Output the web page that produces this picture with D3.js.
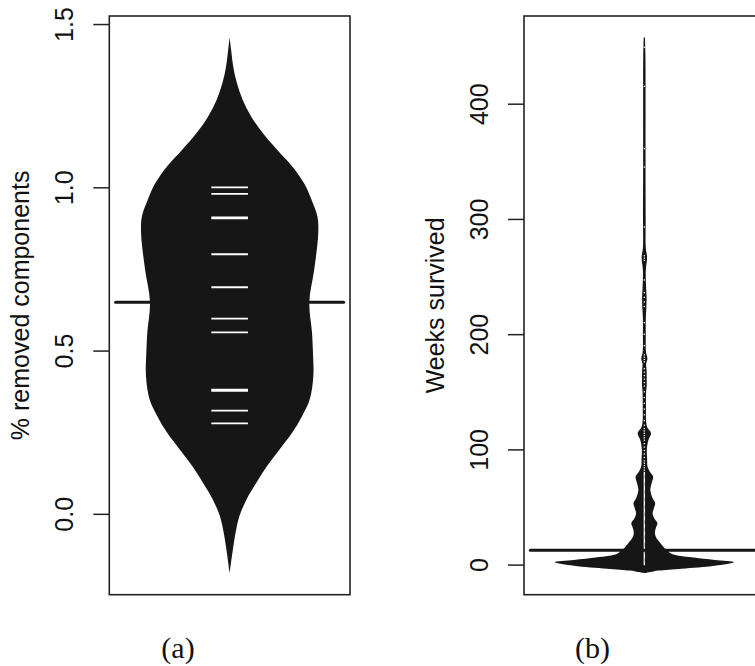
<!DOCTYPE html>
<html><head><meta charset="utf-8">
<script src="https://cdn.jsdelivr.net/npm/d3@7"></script>
<style>body{margin:0;background:#fff;} svg{display:block;}</style>
</head><body>
<script>
// ---------- Panel (a) data ----------
const aCaption = "(a)";
const aTitle = "% removed components";
const aTicks = [0, 0.5, 1.0, 1.5];
const aTickLabels = ["0.0", "0.5", "1.0", "1.5"];
// density outline: value and relative density (0..1)
const aDensValues = [-0.182, -0.108, -0.057, -0.006, 0.045, 0.096, 0.147, 0.198, 0.249, 0.30, 0.351, 0.422, 0.50, 0.556, 0.648, 0.748, 0.86, 0.911, 0.962, 1.013, 1.064, 1.115, 1.166, 1.217, 1.268, 1.32, 1.37, 1.42, 1.459];
const aDensity    = [0, 0.037, 0.067, 0.11, 0.19, 0.30, 0.42, 0.56, 0.70, 0.81, 0.895, 0.935, 0.93, 0.92, 0.89, 0.945, 0.99, 0.98, 0.915, 0.83, 0.70, 0.53, 0.37, 0.24, 0.145, 0.08, 0.04, 0.017, 0];
const aObservations = [1.0, 0.98, 0.905, 0.908, 0.795, 0.694, 0.598, 0.556, 0.377, 0.380, 0.316, 0.277];
const aMedian = 0.648;

// ---------- Panel (b) data ----------
const bCaption = "(b)";
const bTitle = "Weeks survived";
const bTicks = [0, 100, 200, 300, 400];
const bTickLabels = ["0", "100", "200", "300", "400"];
const bDensValues = [-7.5, -6.5, -5.2, -3.5, -0.9, 2.1, 4, 6.4, 9, 12.8, 18.6, 23, 27.3, 32, 36, 40, 44.6, 49, 53.3, 58, 64.8, 70, 76.4, 80, 85, 92, 100, 108, 114, 119, 124, 135, 150, 155, 162, 169, 174, 179, 184, 200, 215, 222, 232, 240, 255, 267, 275, 300, 350, 400, 440, 457.5];
const bDensity    = [0, 0.067, 0.157, 0.416, 0.787, 1.0, 0.787, 0.528, 0.315, 0.247, 0.18, 0.135, 0.118, 0.129, 0.146, 0.112, 0.092, 0.107, 0.121, 0.09, 0.067, 0.079, 0.098, 0.067, 0.036, 0.031, 0.028, 0.045, 0.075, 0.034, 0.02, 0.018, 0.02, 0.026, 0.026, 0.025, 0.02, 0.034, 0.019, 0.016, 0.017, 0.022, 0.025, 0.02, 0.016, 0.03, 0.016, 0.015, 0.0135, 0.0135, 0.0125, 0.007];
const bObservations = [0, 1, 2, 3, 4, 5, 6, 7, 8, 9, 10, 11, 12, 13, 14, 15, 16, 17, 18, 19, 20,
  21, 22, 23, 24, 25, 26, 27, 28, 29, 30, 31, 32, 33, 34, 35, 36, 37, 38, 39, 40,
  41, 42, 43, 44, 45, 46, 47, 48, 49, 50, 51, 52, 53, 54, 55, 56, 57, 58, 59, 60,
  61, 62, 63, 64, 65, 66, 67, 68, 69, 70, 71, 72, 73, 74, 75, 76, 77, 78, 79, 80,
  82, 84, 86, 88, 90, 93, 96, 99, 102, 105, 108, 110, 112, 114, 116, 118, 121, 125, 130,
  135, 140, 145, 150, 155, 158, 161, 164, 167, 170, 176, 178, 180, 182, 190, 200, 210,
  224, 228, 232, 236, 247, 264, 266, 268, 293, 345, 361, 415, 449];
const bMedian = 12.5;

// ---------- drawing ----------
const W = 755, H = 666;
const svg = d3.select("body").append("svg").attr("width", W).attr("height", H);
const FONT = "'Liberation Sans', Arial, Helvetica, sans-serif";
const INK = "#161616";

function panel(cfg) {
  const top = 16, bottom = 594.7, width = 240.7;
  const left = cfg.left, cx = left + width / 2;
  const vmin = d3.min(cfg.dv), vmax = d3.max(cfg.dv), r = vmax - vmin;
  const y = d3.scaleLinear().domain([vmin - 0.04 * r, vmax + 0.04 * r]).range([bottom, top]);
  const w = d3.scaleLinear().domain([0, 1]).range([0, 89.5]);
  const pts = cfg.dv.map((v, i) => ({v, d: cfg.dens[i]}));

  const g = svg.append("g");
  // violin
  const area = d3.area()
    .y(d => y(d.v))
    .x0(d => cx - w(d.d))
    .x1(d => cx + w(d.d))
    .curve(d3.curveCatmullRom.alpha(0.5));
  g.append("path").datum(pts).attr("d", area).attr("fill", INK).attr("stroke", "none");

  // observation lines
  g.selectAll("line.obs").data(cfg.obs).join("line").attr("class", "obs")
    .attr("x1", cx - cfg.obsHalf).attr("x2", cx + cfg.obsHalf)
    .attr("y1", d => y(d)).attr("y2", d => y(d))
    .attr("stroke", "#fff").attr("stroke-width", cfg.obsStroke);

  // median line
  g.append("line")
    .attr("x1", cx - 114).attr("x2", cx + 114)
    .attr("y1", y(cfg.median)).attr("y2", y(cfg.median))
    .attr("stroke", INK).attr("stroke-width", 3).attr("stroke-linecap", "round");

  // box
  g.append("rect").attr("x", left).attr("y", top).attr("width", width).attr("height", bottom - top)
    .attr("fill", "none").attr("stroke", "#222").attr("stroke-width", 1.6);

  // axis
  const axis = d3.axisLeft(y).tickValues(cfg.ticks)
    .tickFormat((d, i) => cfg.labels[i]).tickSize(16).tickSizeOuter(0);
  const ag = g.append("g").attr("transform", `translate(${left},0)`).call(axis)
    .attr("font-family", FONT).attr("font-size", 25);
  ag.select(".domain").remove();
  ag.selectAll(".tick line").attr("stroke", "#222").attr("stroke-width", 1.5);
  ag.selectAll(".tick text")
    .attr("transform", "rotate(-90)")
    .attr("x", 0).attr("y", -36).attr("dy", 0)
    .attr("text-anchor", "middle").attr("fill", "#111");

  // axis title
  g.append("text")
    .attr("transform", `translate(${left - 80},${(top + bottom) / 2}) rotate(-90)`)
    .attr("text-anchor", "middle").attr("font-family", FONT).attr("font-size", 25)
    .attr("fill", "#111").text(cfg.title);

  // caption
  g.append("text").attr("x", cfg.capX).attr("y", 658)
    .attr("text-anchor", "middle").attr("font-family", "'Liberation Serif', 'Times New Roman', serif")
    .attr("font-size", 30).attr("fill", "#111").text(cfg.caption);
}

panel({left: 109.3, dv: aDensValues, dens: aDensity, obs: aObservations, obsHalf: 18.3, obsStroke: 1.8,
  median: aMedian, ticks: aTicks, labels: aTickLabels, title: aTitle, caption: aCaption, capX: 178});
panel({left: 524, dv: bDensValues, dens: bDensity, obs: bObservations, obsHalf: 0.7, obsStroke: 1.2,
  median: bMedian, ticks: bTicks, labels: bTickLabels, title: bTitle, caption: bCaption, capX: 592.5});
</script>
</body></html>
